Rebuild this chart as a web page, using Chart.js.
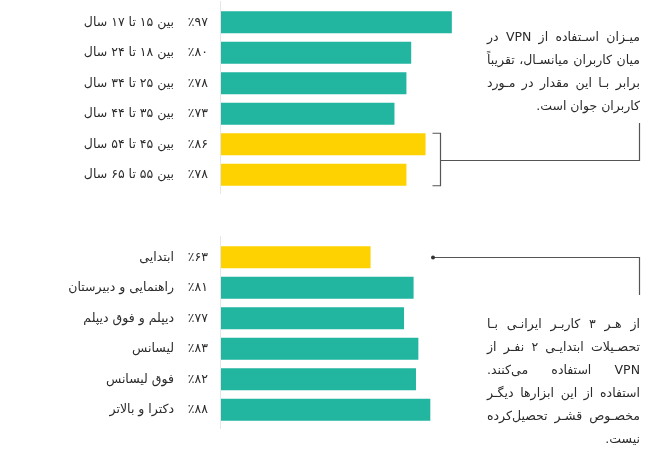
<!DOCTYPE html>
<html lang="fa">
<head>
<meta charset="utf-8">
<script src="https://cdn.jsdelivr.net/npm/chart.js@4.4.1/dist/chart.umd.min.js"></script>
<style>
html,body{margin:0;padding:0;background:#fff;width:656px;height:455px;overflow:hidden;}
.wrap{position:absolute;left:0;width:656px;}
.note{position:absolute;left:487px;width:153px;direction:rtl;font-family:"DejaVu Sans",sans-serif;font-size:12.5px;color:#2b2b2b;}
.note div{height:23px;line-height:23px;text-align:justify;text-align-last:justify;white-space:nowrap;}
.note div.last{text-align-last:right;}
</style>
</head>
<body>
<div class="wrap" style="top:0;height:200px;"><canvas id="c1"></canvas></div>
<div class="wrap" style="top:200px;height:255px;"><canvas id="c2"></canvas></div>

<div class="note" style="top:25px;">
  <div>میـزان اسـتفاده از VPN در</div>
  <div>میان کاربران میانسـال، تقریباً</div>
  <div>برابر بـا این مقدار در مـورد</div>
  <div class="last">کاربران جوان است.</div>
</div>
<div class="note" style="top:312px;">
  <div>از هـر ۳ کاربـر ایرانـی بـا</div>
  <div>تحصـیلات ابتدایـی ۲ نفـر از</div>
  <div>VPN استفاده می‌کنند.</div>
  <div>استفاده از این ابزارها دیگـر</div>
  <div>مخصـوص قشـر تحصیل‌کرده</div>
  <div class="last">نیست.</div>
</div>

<script>
// ---- data ----
const ageLabels = ['بین ۱۵ تا ۱۷ سال','بین ۱۸ تا ۲۴ سال','بین ۲۵ تا ۳۴ سال','بین ۳۵ تا ۴۴ سال','بین ۴۵ تا ۵۴ سال','بین ۵۵ تا ۶۵ سال'];
const ageValues = [97, 80, 78, 73, 86, 78];
const ageHighlight = [false, false, false, false, true, true];

const eduLabels = ['ابتدایی','راهنمایی و دبیرستان','دیپلم و فوق دیپلم','لیسانس','فوق لیسانس','دکترا و بالاتر'];
const eduValues = [63, 81, 77, 83, 82, 88];
const eduHighlight = [true, false, false, false, false, false];

const TEAL = '#22b5a0';
const YELLOW = '#fdd200';
const FONT = '"DejaVu Sans", sans-serif';

function toFa(n){
  const d = '۰۱۲۳۴۵۶۷۸۹';
  return String(n).replace(/[0-9]/g, c => d[+c]);
}

const sideLabels = {
  id: 'sideLabels',
  afterDraw(chart){
    const ctx = chart.ctx, ys = chart.scales.y, area = chart.chartArea;
    ctx.save();
    ctx.strokeStyle = '#e6e6e6';
    ctx.lineWidth = 1;
    ctx.beginPath();
    ctx.moveTo(area.left + 0.5, area.top - 6);
    ctx.lineTo(area.left + 0.5, area.bottom + 4);
    ctx.stroke();
    ctx.fillStyle = '#2b2b2b';
    ctx.textBaseline = 'middle';
    chart.data.labels.forEach((lab, i) => {
      const py = ys.getPixelForValue(i);
      ctx.font = '12.5px ' + FONT;
      ctx.direction = 'rtl';
      ctx.textAlign = 'right';
      ctx.fillText(lab, area.left - 46, py);
      ctx.font = '12.5px ' + FONT;
      ctx.direction = 'ltr';
      ctx.textAlign = 'right';
      ctx.fillText('٪' + toFa(chart.data.datasets[0].data[i]), area.left - 12, py);
    });
    ctx.restore();
  }
};

const bracketTop = {
  id: 'bracketTop',
  afterDraw(chart){
    const ctx = chart.ctx, meta = chart.getDatasetMeta(0);
    const a = meta.data[4], b = meta.data[5];
    const top = a.y - a.height / 2, bot = b.y + b.height / 2;
    const bx = Math.round(Math.max(a.x, b.x) + 14) + 0.5;
    const mid = Math.round((top + bot) / 2) + 0.5;
    ctx.save();
    ctx.strokeStyle = '#555';
    ctx.lineWidth = 1.2;
    ctx.beginPath();
    ctx.moveTo(bx - 8, top); ctx.lineTo(bx, top); ctx.lineTo(bx, bot); ctx.lineTo(bx - 8, bot);
    ctx.moveTo(bx, mid); ctx.lineTo(639.5, mid); ctx.lineTo(639.5, 123);
    ctx.stroke();
    ctx.restore();
  }
};

const pointerBottom = {
  id: 'pointerBottom',
  afterDraw(chart){
    const ctx = chart.ctx, meta = chart.getDatasetMeta(0);
    const a = meta.data[0];
    const px = Math.round(a.x + 62), py = Math.round(a.y) + 0.5;
    ctx.save();
    ctx.strokeStyle = '#555';
    ctx.fillStyle = '#333';
    ctx.lineWidth = 1.2;
    ctx.beginPath();
    ctx.moveTo(px, py); ctx.lineTo(639.5, py); ctx.lineTo(639.5, 95);
    ctx.stroke();
    ctx.beginPath();
    ctx.arc(px, py, 2, 0, Math.PI * 2);
    ctx.fill();
    ctx.restore();
  }
};

function makeChart(id, labels, values, highlight, padTop, padBottom, extra){
  return new Chart(document.getElementById(id), {
    type: 'bar',
    data: {
      labels: labels,
      datasets: [{
        data: values,
        backgroundColor: highlight.map(h => h ? YELLOW : TEAL),
        borderWidth: 0,
        barPercentage: 0.72,
        categoryPercentage: 1
      }]
    },
    options: {
      indexAxis: 'y',
      responsive: true,
      maintainAspectRatio: false,
      animation: false,
      layout: { padding: { left: 220, right: 197, top: padTop, bottom: padBottom } },
      scales: {
        x: { display: false, min: 0, max: 100 },
        y: { display: false }
      },
      plugins: { legend: { display: false }, tooltip: { enabled: false } }
    },
    plugins: [sideLabels, extra]
  });
}

makeChart('c1', ageLabels, ageValues, ageHighlight, 7, 10, bracketTop);
makeChart('c2', eduLabels, eduValues, eduHighlight, 42, 30, pointerBottom);
</script>
</body>
</html>
